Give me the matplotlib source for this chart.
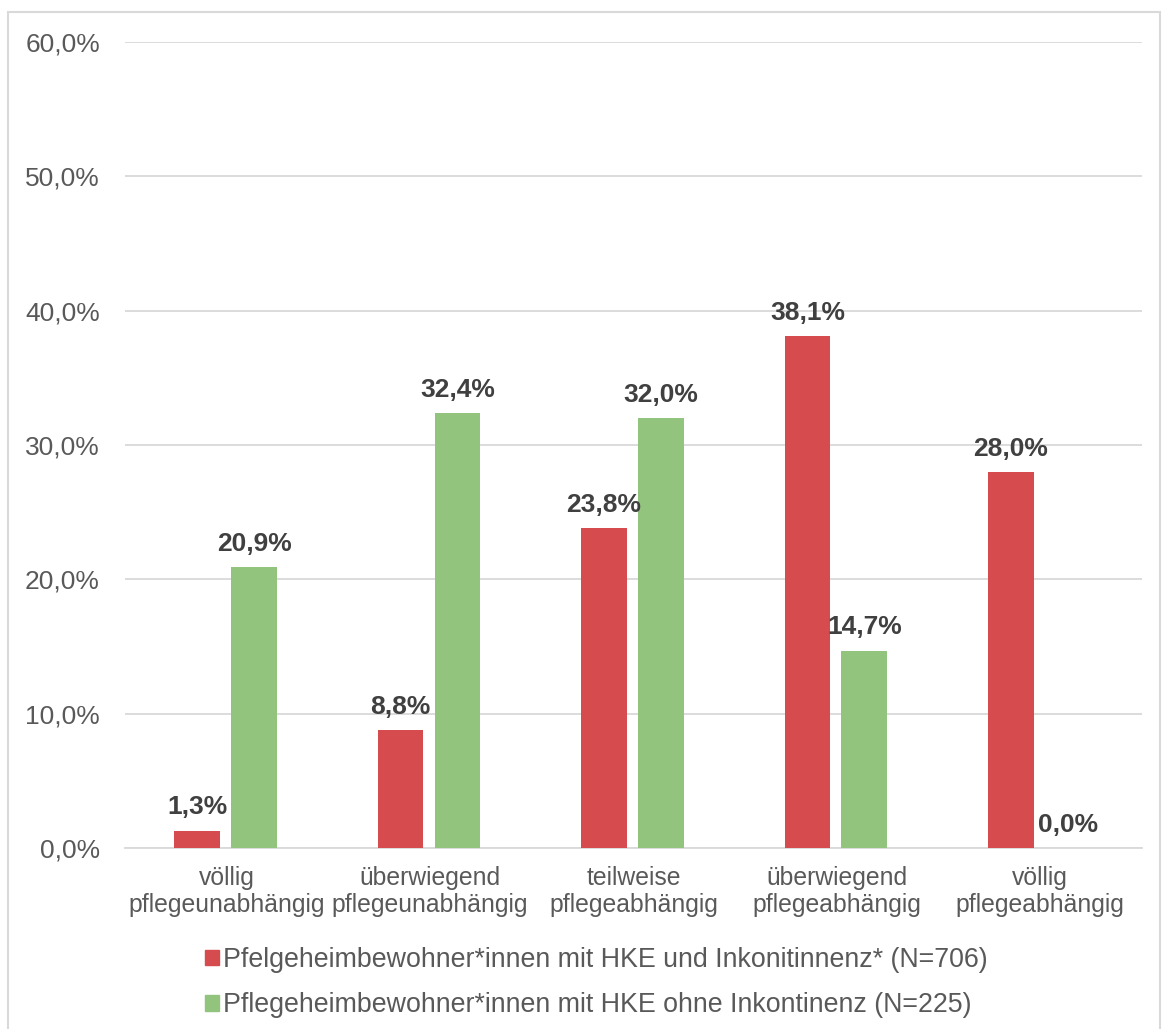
import numpy as np
import matplotlib.pyplot as plt
from matplotlib.patches import Patch, Rectangle

# Werte aus der Grafik (Prozent)
categories = ['völlig\npflegeunabhängig', 'überwiegend\npflegeunabhängig', 'teilweise\npflegeabhängig',
              'überwiegend\npflegeabhängig', 'völlig\npflegeabhängig']
mit_inkontinenz = [1.3, 8.8, 23.8, 38.1, 28.0]
ohne_inkontinenz = [20.9, 32.4, 32.0, 14.7, 0.0]
series_labels = ['Pfelgeheimbewohner*innen mit HKE und Inkonitinnenz* (N=706)',
                 'Pflegeheimbewohner*innen mit HKE ohne Inkontinenz (N=225)']
yticks = [0, 10, 20, 30, 40, 50, 60]

red = '#d64b4e'
green = '#93c47d'
txt = '#595959'
grid = '#d9d9d9'

plt.rcParams['font.family'] = ['Liberation Sans', 'DejaVu Sans']

fig = plt.figure(figsize=(11.69, 10.29), dpi=100)
ax = fig.add_axes([125 / 1169, 1 - 848 / 1029, (1142 - 125) / 1169, (848 - 42) / 1029])

# Rahmen um das Diagramm
fig.patches.append(Rectangle((8 / 1169, -0.05), (1160 - 8) / 1169, 1.05 - 12 / 1029,
                             transform=fig.transFigure, fill=False, edgecolor=grid, linewidth=1.5))

x = np.arange(len(categories))
w = 0.225
b1 = ax.bar(x - 0.145, mit_inkontinenz, w, color=red, zorder=3)
b2 = ax.bar(x + 0.135, ohne_inkontinenz, w, color=green, zorder=3)

for bars, vals in [(b1, mit_inkontinenz), (b2, ohne_inkontinenz)]:
    for r, v in zip(bars, vals):
        ax.annotate(f'{v:.1f}%'.replace('.', ','), (r.get_x() + r.get_width() / 2, v),
                    xytext=(0, 8), textcoords='offset points', ha='center', va='bottom',
                    fontsize=19, fontweight='bold', color='#404040', zorder=4)

ax.set_xlim(-0.5, 4.5)
ax.set_ylim(0, 60)
ax.set_yticks(yticks)
ax.set_yticklabels([f'{t:.1f}%'.replace('.', ',') for t in yticks], fontsize=19, color=txt)
ax.set_xticks(x)
ax.set_xticklabels(categories, fontsize=17.8, color=txt, linespacing=1.15)
ax.tick_params(axis='y', length=0, pad=18)
ax.tick_params(axis='x', length=0, pad=13)
ax.yaxis.grid(True, color=grid, linewidth=1.3, zorder=0)
for s in ['top', 'right', 'left']:
    ax.spines[s].set_visible(False)
ax.spines['bottom'].set_color(grid)
ax.spines['bottom'].set_linewidth(1.3)

handles = [Patch(color=red), Patch(color=green)]
fig.legend(handles, series_labels, loc='upper left', bbox_to_anchor=(181 / 1169, 1 - 923 / 1029),
           frameon=False, fontsize=19.3, labelcolor=txt, handlelength=0.5, handleheight=0.5,
           handletextpad=0.15, labelspacing=0.72)

fig.savefig('out.png', dpi=100)
